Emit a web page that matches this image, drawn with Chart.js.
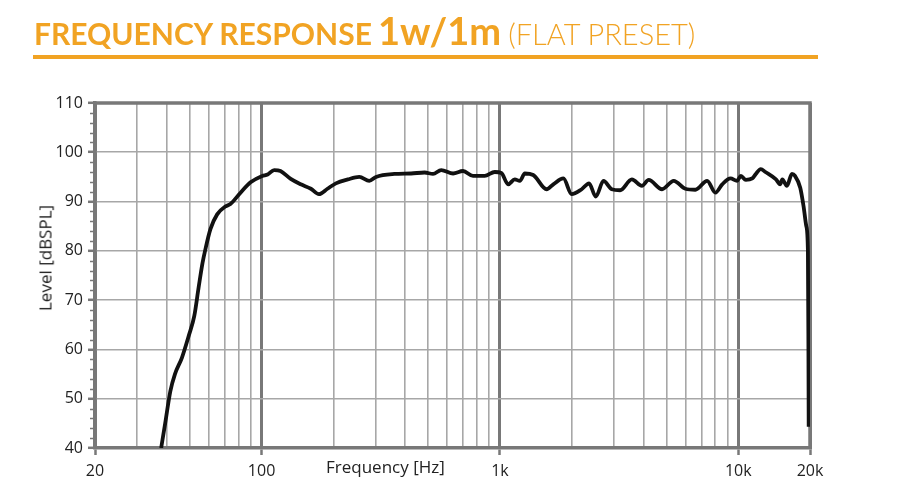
<!DOCTYPE html>
<html>
<head>
<meta charset="utf-8">
<script src="https://cdn.jsdelivr.net/npm/chart.js@4.4.1/dist/chart.umd.min.js"></script>
<style>
  html, body { margin:0; padding:0; background:#fff; }
  body { width:900px; height:494px; position:relative; overflow:hidden; }
  #wrap { position:absolute; left:0; top:0; width:900px; height:494px; }
  #title { position:absolute; left:34px; top:11px; color:#F1A323; white-space:nowrap; font-family:Lato, sans-serif; line-height:1; }
  #title .a { font-weight:700; font-size:30px; }
  #title .b { font-weight:700; font-size:38px; margin-left:2px; }
  #title .c { font-weight:300; font-size:29px; margin-left:3px; }
  #rule { position:absolute; left:33px; top:55px; width:785px; height:4px; background:#F1A323; }
  #xt { position:absolute; left:326px; top:455px; font:17px "Open Sans", sans-serif; color:#222; white-space:nowrap; }
  #yt { position:absolute; left:45px; top:258px; font:17px "Open Sans", sans-serif; color:#222; white-space:nowrap; transform:translate(-50%,-50%) rotate(-90deg); }
</style>
</head>
<body>
<div id="wrap"><canvas id="c" width="900" height="494"></canvas></div>
<div id="title"><span class="a">FREQUENCY RESPONSE</span> <span class="b">1w/1m</span> <span class="c">(FLAT PRESET)</span></div>
<div id="rule"></div>
<div id="xt">Frequency [Hz]</div>
<div id="yt">Level [dBSPL]</div>
<script>
// ---- data ----
const freqHz = [37.9, 39.4, 41.4, 43.3, 46.3, 49.5, 52.2, 54.4, 56.5, 58.1, 61, 65.1, 70.5, 74, 81.6, 89.9,
  100.6, 106, 113, 120, 132.5, 146, 161, 174, 189, 205, 230, 257, 283, 302, 361, 424, 483, 524, 567, 636,
  700, 771, 863, 951, 1014, 1082, 1154, 1212, 1272, 1379, 1570, 1675, 1846, 2000, 2204, 2366, 2525, 2720,
  2946, 3194, 3577, 3943, 4208, 4788, 5361, 5999, 6608, 7406, 8022, 8563, 9283, 9880, 10260, 10760, 11450,
  11850, 12430, 13000, 14400, 15000, 15300, 16000, 16800, 17300, 18200, 18800, 19300, 19600, 19700, 19750];
const levelDb = [40, 45, 51.5, 55, 58.3, 62.8, 66.8, 72.5, 77.5, 80.3, 84.4, 87.4, 89, 89.5, 91.8, 93.9,
  95.2, 95.5, 96.4, 96.2, 94.6, 93.5, 92.6, 91.5, 92.6, 93.7, 94.5, 95.0, 94.2, 95.0, 95.6, 95.7, 95.9, 95.6, 96.4, 95.7,
  96.2, 95.2, 95.2, 96.0, 95.8, 93.5, 94.5, 94.2, 95.7, 95.4, 92.5, 93.5, 94.7, 91.5, 92.5, 93.7, 91.0, 94.2,
  92.5, 92.3, 94.5, 93.2, 94.4, 92.5, 94.2, 92.6, 92.4, 94.2, 91.8, 93.5, 94.7, 94.2, 95.2, 94.4, 94.7,
  95.6, 96.6, 96.0, 94.5, 93.5, 94.5, 93.2, 95.6, 95.2, 92.8, 89.0, 85.0, 80.0, 60.0, 44.3];

const xMin = 20, xMax = 20000, yMin = 40, yMax = 110;
const xGridValues = [20,30,40,50,60,70,80,90,100,200,300,400,500,600,700,800,900,
  1000,2000,3000,4000,5000,6000,7000,8000,9000,10000,20000];
const xMajorValues = [20, 100, 1000, 10000, 20000];
const xMajorLabels = ['20', '100', '1k', '10k', '20k'];
const yMajorStep = 10, yMinorStep = 2;

const points = freqHz.map((f, i) => ({x: f, y: levelDb[i]}));
const isMajorX = v => xMajorValues.includes(v);

const GRID = '#a7a7a7', AXIS = '#787878';

const framePlugin = {
  id: 'frame',
  beforeDatasetsDraw(chart) {
    const {ctx, chartArea: a, scales: {y}} = chart;
    ctx.save();
    ctx.strokeStyle = AXIS;
    ctx.lineWidth = 1.6;
    ctx.beginPath();
    for (let v = yMin + yMinorStep; v < yMax; v += yMinorStep) {
      if (v % yMajorStep === 0) continue;
      const py = Math.round(y.getPixelForValue(v)) + 0.5;
      ctx.moveTo(a.left - 5, py); ctx.lineTo(a.left, py);
    }
    ctx.stroke();
    ctx.lineWidth = 3.5;
    ctx.beginPath();
    ctx.moveTo(a.left, a.top); ctx.lineTo(a.right, a.top); ctx.lineTo(a.right, a.bottom);
    ctx.stroke();
    ctx.restore();
  }
};

new Chart(document.getElementById('c'), {
  type: 'scatter',
  data: { datasets: [{
    data: points, showLine: true, borderColor: '#111', borderWidth: 3.8,
    pointRadius: 0, cubicInterpolationMode: 'monotone', fill: false
  }]},
  options: {
    responsive: false, animation: false, events: [],
    layout: { padding: { left: 0, right: 90, top: 103, bottom: 0 } },
    plugins: { legend: { display: false }, tooltip: { enabled: false } },
    scales: {
      x: {
        type: 'logarithmic', min: xMin, max: xMax,
        afterBuildTicks: s => { s.ticks = xGridValues.map(v => ({value: v})); },
        afterFit: s => { s.height = 46; },
        ticks: {
          autoSkip: false, maxRotation: 0, padding: 7, color: '#222',
          font: { family: 'Open Sans', size: 16 },
          callback: v => { const i = xMajorValues.indexOf(v); return i >= 0 ? xMajorLabels[i] : ''; }
        },
        grid: {
          color: c => (c.tick && isMajorX(c.tick.value)) ? AXIS : GRID,
          lineWidth: c => (c.tick && isMajorX(c.tick.value)) ? 3 : 1.6,
          tickColor: c => (c.tick && isMajorX(c.tick.value)) ? AXIS : 'rgba(0,0,0,0)',
          tickWidth: 2.5, tickLength: 7
        },
        border: { color: AXIS, width: 3.5 }
      },
      y: {
        min: yMin, max: yMax,
        afterFit: s => { s.width = 95; },
        ticks: { stepSize: yMajorStep, padding: 5, color: '#222', font: { family: 'Open Sans', size: 16 } },
        grid: { color: GRID, lineWidth: 1.6, tickColor: AXIS, tickWidth: 2.5, tickLength: 7 },
        border: { color: AXIS, width: 3.5 }
      }
    }
  },
  plugins: [framePlugin]
});
</script>
</body>
</html>
